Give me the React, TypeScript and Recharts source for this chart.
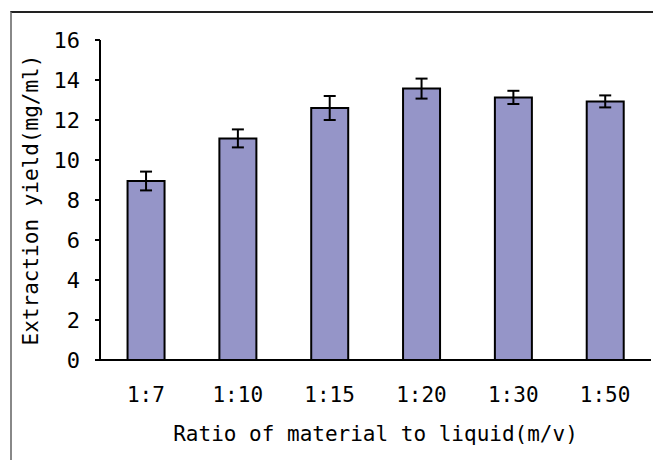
import React from 'react';
import { BarChart, Bar, XAxis, YAxis, ErrorBar } from 'recharts';

const categories = ['1:7', '1:10', '1:15', '1:20', '1:30', '1:50'];
const yields = [8.95, 11.08, 12.6, 13.57, 13.13, 12.93];
const errors = [0.47, 0.45, 0.6, 0.5, 0.33, 0.3];
const yTicks = [0, 2, 4, 6, 8, 10, 12, 14, 16];

const data = categories.map((c, i) => ({ name: c, value: yields[i], err: errors[i] }));

const FONT = '"DejaVu Sans Mono", "Liberation Mono", monospace';

const YLabel = (props: any) => {
  const vb = props.viewBox || { x: 0, y: 40, width: 100, height: 320 };
  const cx = vb.x + 31;
  const cy = vb.y + vb.height / 2;
  return (
    <text
      x={cx}
      y={cy}
      transform={`rotate(-90, ${cx}, ${cy})`}
      textAnchor="middle"
      dominantBaseline="central"
      fontFamily={FONT}
      fontSize={21}
      fill="#000"
    >
      Extraction yield(mg/ml)
    </text>
  );
};

const XLabel = (props: any) => {
  const vb = props.viewBox || { x: 100, y: 360, width: 551, height: 100 };
  const cx = vb.x + vb.width / 2;
  const cy = vb.y + 74;
  return (
    <text x={cx} y={cy} textAnchor="middle" dominantBaseline="central" fontFamily={FONT} fontSize={21} fill="#000">
      Ratio of material to liquid(m/v)
    </text>
  );
};

export default function App() {
  return (
    <div style={{ position: 'absolute', left: 0, top: 0, width: 653, height: 460, background: '#fff' }}>
      <div
        style={{
          position: 'absolute',
          left: 10,
          top: 11,
          width: 643,
          height: 449,
          borderTop: '2px solid #222',
          borderLeft: '2px solid #888',
          boxSizing: 'border-box',
        }}
      />
      <div style={{ position: 'absolute', left: 0, top: 0 }}>
        <BarChart
          width={653}
          height={460}
          data={data}
          margin={{ top: 40, right: 2, bottom: 0, left: 0 }}
          barCategoryGap="30%"
        >
          <XAxis
            dataKey="name"
            height={100}
            axisLine={{ stroke: '#000', strokeWidth: 2 }}
            tickLine={false}
            tickSize={0}
            tickMargin={27}
            tick={{ fill: '#000', fontFamily: FONT, fontSize: 21 }}
            label={<XLabel />}
          />
          <YAxis
            width={100}
            domain={[0, 16]}
            ticks={yTicks}
            interval={0}
            axisLine={{ stroke: '#000', strokeWidth: 2 }}
            tickLine={{ stroke: '#000', strokeWidth: 2 }}
            tickSize={5}
            tickMargin={15}
            tick={{ fill: '#000', fontFamily: FONT, fontSize: 22 }}
            label={<YLabel />}
          />
          <Bar dataKey="value" fill="#9595C8" stroke="#000" strokeWidth={2} isAnimationActive={false}>
            <ErrorBar dataKey="err" width={6} stroke="#000" strokeWidth={2} direction="y" />
          </Bar>
        </BarChart>
      </div>
    </div>
  );
}
